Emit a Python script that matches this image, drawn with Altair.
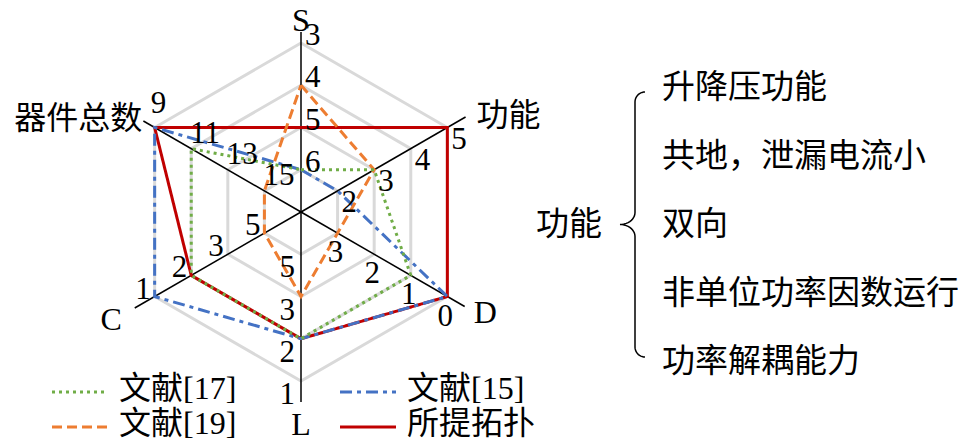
import math
import altair as alt
import numpy as np
import pandas as pd

# ------------------------------------------------------------------ data
axis_names = ["S", "功能", "D", "L", "C", "器件总数"]
axis_angles = [90, 30, -30, -90, 210, 150]          # degrees
# tick labels from the inner ring (level 1) to the outer ring (level 4)
ticks_S = ["6", "5", "4", "3"]
ticks_func = ["2", "3", "4", "5"]
ticks_D = ["3", "2", "1", "0"]
ticks_L = ["5", "3", "2", "1"]
ticks_C = ["5", "3", "2", "1"]
ticks_N = ["15", "13", "11", "9"]
axis_ticks = [ticks_S, ticks_func, ticks_D, ticks_L, ticks_C, ticks_N]

series_names = ["所提拓扑", "文献[15]", "文献[19]", "文献[17]"]
vals_proposed = [5, 5, 0, 2, 2, 9]
vals_ref15 = [6, 2, 0, 2, 1, 9]
vals_ref19 = [4, 3, 3, 3, 5, 15]
vals_ref17 = [6, 3, 1, 2, 2, 11]
series_values = [vals_proposed, vals_ref15, vals_ref19, vals_ref17]

function_title = "功能"
function_items = ["升降压功能", "共地，泄漏电流小", "双向", "非单位功率因数运行", "功率解耦能力"]

# ------------------------------------------------------------------ layout / style
W, H = 952, 432
CX, CY, R = 301, 212, 169
R_EXT = [180, 190, 189, 190, 192, 182]   # axis line length per axis
N_LEVELS = 4
SERIF = "Liberation Serif, Noto Sans CJK SC"

series_style = {
    "所提拓扑": dict(color="#C00000", dash=[1, 0]),
    "文献[15]": dict(color="#4472C4", dash=[12, 5, 4, 5]),
    "文献[19]": dict(color="#ED7D31", dash=[10, 5]),
    "文献[17]": dict(color="#70AD47", dash=[3, 4]),
}
legend_slot = {"文献[17]": (0, 0), "文献[19]": (0, 1), "文献[15]": (1, 0), "所提拓扑": (1, 1)}
legend_col_x = [52, 340]
legend_row_y = [392, 427]
legend_len = 56

tick_style = [("left", 4, 2), ("left", 4, 21), ("center", -2, 29),
              ("right", -6, 23), ("right", -4, 2), ("left", -1, -6)]
# name anchor offsets relative to the end of each axis line
name_style = [("center", 0, -11), ("left", 11, -1), ("left", 9, 6),
              ("center", 0, 23), ("right", -13, 12), ("right", -1, -2)]


def polar(r, ang):
    a = math.radians(ang)
    return CX + r * math.cos(a), CY - r * math.sin(a)


xs = alt.Scale(domain=[8, 8 + W], nice=False, zero=False)
ys = alt.Scale(domain=[8, 8 + H], nice=False, zero=False, reverse=True)
X = alt.X("x:Q", scale=xs, axis=None)
Y = alt.Y("y:Q", scale=ys, axis=None)

layers = []

# grid rings
ring_rows = []
for lvl in range(1, N_LEVELS + 1):
    for i, ang in enumerate(axis_angles + [axis_angles[0]]):
        x, y = polar(R * lvl / N_LEVELS, ang)
        ring_rows.append(dict(ring=lvl, i=i, x=x, y=y))
layers.append(alt.Chart(pd.DataFrame(ring_rows)).mark_line(
    color="#D9D9D9", strokeWidth=3).encode(X, Y, detail="ring:N", order="i:Q"))

# axes
axis_rows = []
for name, ang, rext in zip(axis_names, axis_angles, R_EXT):
    x2, y2 = polar(rext, ang)
    axis_rows.append(dict(name=name, x=CX, y=CY, x2=x2, y2=y2))
layers.append(alt.Chart(pd.DataFrame(axis_rows)).mark_rule(
    color="black", strokeWidth=1.5).encode(X, Y, x2="x2:Q", y2="y2:Q"))

# series
for sname, vals in zip(series_names, series_values):
    rows = []
    for i, (ang, ticks, v) in enumerate(zip(axis_angles + [axis_angles[0]],
                                            axis_ticks + [axis_ticks[0]],
                                            vals + [vals[0]])):
        lvl = ticks.index(str(v)) + 1
        x, y = polar(R * lvl / N_LEVELS, ang)
        rows.append(dict(series=sname, i=i, x=x, y=y))
    st = series_style[sname]
    layers.append(alt.Chart(pd.DataFrame(rows)).mark_line(
        color=st["color"], strokeWidth=3, strokeDash=st["dash"]).encode(X, Y, order="i:Q"))

# tick labels
tick_rows = []
for k, (ang, ticks) in enumerate(zip(axis_angles, axis_ticks)):
    align, dx, dy = tick_style[k]
    for lvl, lab in enumerate(ticks, start=1):
        x, y = polar(R * lvl / N_LEVELS, ang)
        ddx, ddy = dx, dy
        if k == 5 and lvl == N_LEVELS:
            ddx, ddy = -4, -15
        tick_rows.append(dict(label=lab, align=align, x=x + ddx, y=y + ddy))
tick_df = pd.DataFrame(tick_rows)
for align in ["left", "center", "right"]:
    layers.append(alt.Chart(tick_df[tick_df["align"] == align]).mark_text(
        align=align, baseline="alphabetic", font=SERIF, fontSize=31, color="black"
    ).encode(X, Y, text="label:N"))

# axis names
name_rows = []
for k, (name, ang, rext) in enumerate(zip(axis_names, axis_angles, R_EXT)):
    align, dx, dy = name_style[k]
    x, y = polar(rext, ang)
    name_rows.append(dict(label=name, align=align, x=x + dx, y=y + dy))
name_df = pd.DataFrame(name_rows)
for align in ["left", "center", "right"]:
    layers.append(alt.Chart(name_df[name_df["align"] == align]).mark_text(
        align=align, baseline="middle", font=SERIF, fontSize=32, color="black"
    ).encode(X, Y, text="label:N"))

# legend
leg_text = []
for sname in series_names:
    c, r = legend_slot[sname]
    x0, y0 = legend_col_x[c], legend_row_y[r]
    st = series_style[sname]
    layers.append(alt.Chart(pd.DataFrame([dict(x=x0, x2=x0 + legend_len, y=y0)])).mark_rule(
        color=st["color"], strokeWidth=3, strokeDash=st["dash"]).encode(X, Y, x2="x2:Q"))
    leg_text.append(dict(label=sname, x=x0 + legend_len + 11, y=y0 - 3))
layers.append(alt.Chart(pd.DataFrame(leg_text)).mark_text(
    align="left", baseline="middle", font=SERIF, fontSize=32, color="black"
).encode(X, Y, text="label:N"))

# right panel: title, brace, items
BR_X, BR_TIP, BR_END, BR_TOP, BR_BOT = 635, 620, 645, 92, 357
BR_MID = (BR_TOP + BR_BOT) / 2
t = np.linspace(0, np.pi / 2, 12)
bx = np.concatenate([BR_END - 10 * np.sin(t), [BR_X],
                     BR_TIP + 15 * np.cos(t), BR_TIP + 15 * np.sin(t), [BR_X],
                     BR_END - 10 * np.cos(t)])
by = np.concatenate([BR_TOP + 10 - 10 * np.cos(t), [BR_MID - 12],
                     BR_MID - 12 + 12 * np.sin(t), BR_MID + 12 - 12 * np.cos(t), [BR_BOT - 10],
                     BR_BOT - 10 + 10 * np.sin(t)])
layers.append(alt.Chart(pd.DataFrame(dict(i=np.arange(len(bx)), x=bx, y=by))).mark_line(
    color="black", strokeWidth=1.5).encode(X, Y, order="i:Q"))

layers.append(alt.Chart(pd.DataFrame([dict(label=function_title, x=569, y=BR_MID)])).mark_text(
    align="center", baseline="middle", font=SERIF, fontSize=33, color="black"
).encode(X, Y, text="label:N"))

item_rows = [dict(label=s, x=662, y=88 + k * 68.5) for k, s in enumerate(function_items)]
layers.append(alt.Chart(pd.DataFrame(item_rows)).mark_text(
    align="left", baseline="middle", font=SERIF, fontSize=33, color="black"
).encode(X, Y, text="label:N"))

chart = alt.layer(*layers).properties(
    width=W, height=H, padding=0, autosize=alt.AutoSizeParams(type="none")
).configure_view(strokeWidth=0)

chart.save("out.html", embed_options={"renderer": "svg", "actions": False})
